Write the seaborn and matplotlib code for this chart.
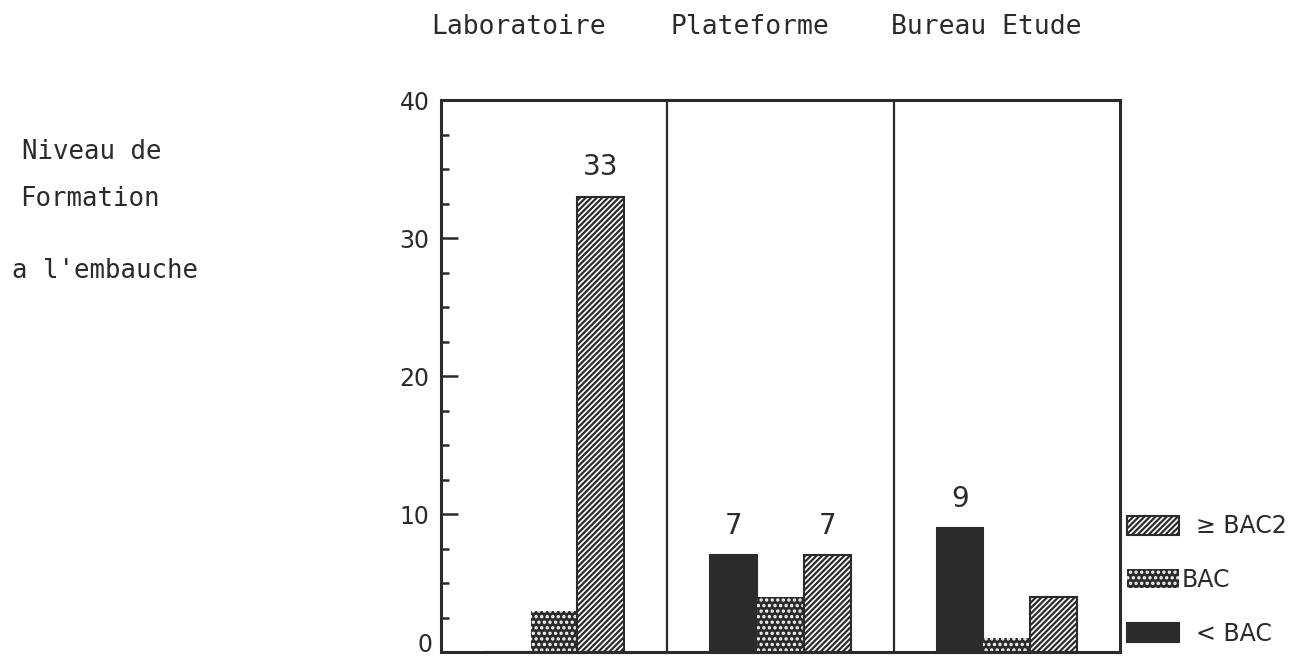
import numpy as np
import pandas as pd
import matplotlib
matplotlib.use('Agg')
import matplotlib.pyplot as plt
from matplotlib.patches import Patch
from matplotlib.ticker import MultipleLocator, FuncFormatter
import seaborn as sns

#data
services = ['Laboratoire', 'Plateforme', 'Bureau Etude']
niveaux = ['< BAC', 'BAC', '≥ BAC2']
inf_bac = [0, 7, 9]
bac = [3, 4, 1]
sup_bac2 = [33, 7, 4]
labels_inf_bac = ['', '7', '9']
labels_sup_bac2 = ['33', '7', '']

df = pd.DataFrame({
    'service': services * 3,
    'niveau': [niveaux[0]] * 3 + [niveaux[1]] * 3 + [niveaux[2]] * 3,
    'effectif': inf_bac + bac + sup_bac2,
})

sns.set_style('white')
plt.rcParams['font.family'] = ['DejaVu Sans']
plt.rcParams['hatch.linewidth'] = 1.6

ink = '#2b2b2b'
fig = plt.figure(figsize=(13.12, 6.61), dpi=100)
ax = fig.add_axes([0.336, 0.0136, 0.5177, 0.8351])

sns.barplot(data=df, x='service', y='effectif', hue='niveau', hue_order=niveaux,
            order=services, width=0.62, palette=[ink, ink, 'white'],
            saturation=1, legend=False, ax=ax)

#fill styles: solid, dotted, hatched
styles = [dict(fc=ink, ec=ink, hatch=None),
          dict(fc=ink, ec='white', hatch='...'),
          dict(fc='white', ec=ink, hatch='//////')]
for cont, st in zip(ax.containers, styles):
    for p in cont:
        p.set_facecolor(st['fc'])
        p.set_edgecolor(st['ec'])
        p.set_hatch(st['hatch'])
        p.set_linewidth(0 if st['ec'] == 'white' else 1.5)

ax.bar_label(ax.containers[0], labels=labels_inf_bac, padding=11, fontsize=20, color=ink)
ax.bar_label(ax.containers[2], labels=labels_sup_bac2, padding=11, fontsize=20, color=ink)

ax.set_xlim(-0.5, 2.5)
ax.set_ylim(0, 40)
for x in [0.5, 1.5]:
    ax.axvline(x, color=ink, lw=1.6)

ax.set_xlabel('')
ax.set_ylabel('')
ax.set_xticks([])
ax.yaxis.set_major_locator(MultipleLocator(10))
ax.yaxis.set_minor_locator(MultipleLocator(2.5))
#"0" is drawn by hand a bit above the base line, like on the scan
ax.yaxis.set_major_formatter(FuncFormatter(lambda v, pos: '' if v == 0 else f'{v:.0f}'))
ax.tick_params(axis='y', which='major', direction='in', length=12, width=1.8,
               labelsize=17, pad=8, colors=ink, left=True)
ax.tick_params(axis='y', which='minor', direction='in', length=6, width=1.8,
               colors=ink, left=True)
ax.annotate('0', xy=(0, 0), xycoords=('axes fraction', 'data'), xytext=(-6, 5),
            textcoords='offset points', ha='right', va='center', fontsize=17,
            color=ink, annotation_clip=False)
for s in ax.spines.values():
    s.set_visible(True)
    s.set_color(ink)
    s.set_linewidth(2.2)

#category names on top
mono = 'DejaVu Sans Mono'
for name, xc in zip(services, [519, 750, 986]):
    fig.text(xc / 1312, 1 - 27 / 661, name, ha='center', va='center',
             family=mono, fontsize=19, color=ink)

fig.text(22 / 1312, 1 - 152 / 661, 'Niveau de', ha='left', va='center',
         family=mono, fontsize=18.5, color=ink)
fig.text(20 / 1312, 1 - 199 / 661, 'Formation', ha='left', va='center',
         family=mono, fontsize=18.5, color=ink)
fig.text(12 / 1312, 1 - 271 / 661, "a l'embauche", ha='left', va='center',
         family=mono, fontsize=18.5, color=ink)

handles = [Patch(fc='white', ec=ink, hatch='//////', lw=1.5),
           Patch(fc=ink, ec='white', hatch='...', lw=0),
           Patch(fc=ink, ec=ink, lw=1.5)]
leg_labels = ['  ≥ BAC2', 'BAC', '  < BAC']
fig.legend(handles, leg_labels, loc='center left',
           bbox_to_anchor=(1127 / 1312, 1 - 580 / 661), frameon=False,
           fontsize=17, handlelength=2.2, handleheight=0.85,
           handletextpad=0.1, labelspacing=1.25, borderpad=0, borderaxespad=0,
           labelcolor=ink)

fig.savefig('out.png', dpi=100, facecolor='white')
